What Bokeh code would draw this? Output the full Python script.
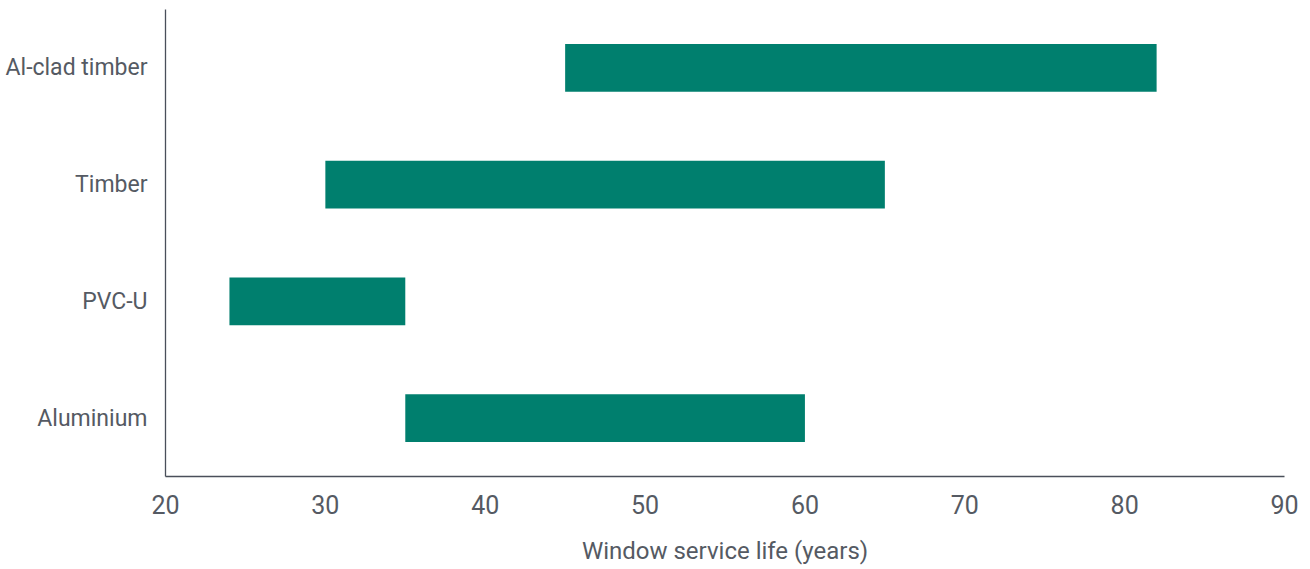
from bokeh.plotting import figure
from bokeh.models import Range1d, FixedTicker
from bokeh.embed import file_html
from bokeh.resources import INLINE

categories = ["Aluminium", "PVC-U", "Timber", "Al-clad timber"]
life_min = [35, 24, 30, 45]
life_max = [60, 35, 65, 82]
x_ticks = [20, 30, 40, 50, 60, 70, 80, 90]

FONT = "Roboto"
TEXT = "#555a63"
AXIS = "#4a4f5a"

p = figure(width=1310, height=569, y_range=categories, x_range=Range1d(20, 90),
           output_backend="svg", toolbar_location=None,
           min_border_left=165, min_border_right=26, min_border_top=9, min_border_bottom=93)
p.y_range.range_padding = 0

p.hbar(y=categories, left=life_min, right=life_max, height=0.41, color="#007f6e", line_color=None)

p.grid.visible = False
p.outline_line_color = None

p.xaxis.ticker = FixedTicker(ticks=x_ticks)
p.xaxis.axis_label = "Window service life (years)"
for ax in (p.xaxis[0], p.yaxis[0]):
    ax.major_tick_line_color = None
    ax.minor_tick_line_color = None
    ax.major_tick_out = 0
    ax.major_tick_in = 0
    ax.axis_line_color = AXIS
    ax.axis_line_width = 1.3
    ax.major_label_text_font = FONT
    ax.major_label_text_color = TEXT
    ax.axis_label_text_font = FONT
    ax.axis_label_text_color = TEXT
    ax.axis_label_text_font_style = "normal"
p.xaxis.major_label_text_font_size = "25px"
p.xaxis.axis_label_text_font_size = "24px"
p.yaxis.major_label_text_font_size = "23px"
p.xaxis.major_label_standoff = 18
p.xaxis.axis_label_standoff = 20
p.yaxis.major_label_standoff = 18

open("out.html", "w").write(file_html(p, INLINE))
